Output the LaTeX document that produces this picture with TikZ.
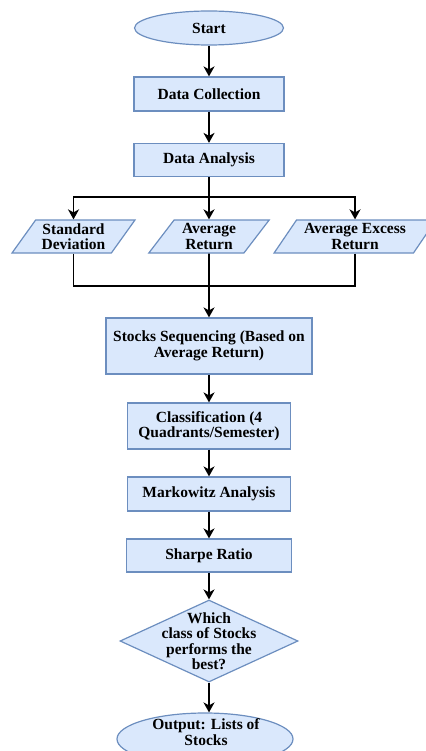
\documentclass[tikz,border=0pt]{standalone}
\usepackage{fontspec}
\setmainfont{Liberation Serif}
\usetikzlibrary{shapes.geometric,arrows.meta,calc}
\definecolor{boxfill}{HTML}{DAE8FC}
\definecolor{boxline}{HTML}{6C8EBF}
\begin{document}
\begin{tikzpicture}[x=1pt,y=-1pt,
  font=\bfseries\fontsize{15.5}{15.5}\selectfont,
  base/.style={draw=boxline, fill=boxfill, line width=1.2pt, align=center, inner sep=0pt},
  proc/.style={base, rectangle},
  terminal/.style={base, ellipse},
  para/.style={base, trapezium, trapezium left angle=53, trapezium right angle=127, trapezium stretches=true},
  decision/.style={base, diamond},
  txt/.style={align=center, inner sep=0pt},
  conn/.style={line width=1.8pt, black},
  flow/.style={conn, -{Stealth[length=10pt,width=11pt,inset=3pt]}}
]
\useasboundingbox (0,0) rectangle (425,751);

\node[terminal, minimum width=149, minimum height=34] (start) at (209,28) {Start};
\node[proc, minimum width=150, minimum height=34] (dc) at (209,94) {Data Collection};
\node[proc, minimum width=150, minimum height=33] (da) at (209,160) {Data Analysis};

\node[para, minimum width=123, minimum height=33] (sd) at (73.5,236.5) {Standard\\Deviation};
\node[para, minimum width=121, minimum height=33] (ar) at (209,236.5) {Average\\Return};
\node[para, minimum width=162, minimum height=33] (aer) at (355,236.5) {Average Excess\\Return};

\node[proc, minimum width=206, minimum height=56] (ss) at (209,346) {Stocks Sequencing (Based on\\Average Return)};
\node[proc, minimum width=163, minimum height=46] (cl) at (209,426) {Classification (4\\Quadrants/Semester)};
\node[proc, minimum width=163, minimum height=34] (mk) at (209,494) {Markowitz Analysis};
\node[proc, minimum width=165, minimum height=33] (sr) at (209,555.5) {Sharpe Ratio};

\node[decision, minimum width=178, minimum height=82] (q) at (209,641) {};
\node[txt] (qt) at (q.center) {Which\\class of Stocks\\performs the\\best?};

\node[terminal, minimum width=176, minimum height=52] (out) at (205,739) {};
\node[txt] (outt) at (206,732) {Output: Lists of\\Stocks};

\coordinate (split) at (209,197);
\coordinate (join) at (209,286);

\draw[flow] (start) -- (dc);
\draw[flow] (dc) -- (da);
\draw[conn] (da.south) -- (split);
\draw[flow] (split) -| (sd.north);
\draw[flow] (split) -- (ar.north);
\draw[flow] (split) -| (aer.north);
\draw[conn] (sd.south) |- (join);
\draw[conn] (aer.south) |- (join);
\draw[conn] (ar.south) -- (join);
\draw[flow] (join) -- (ss.north);
\draw[flow] (ss) -- (cl);
\draw[flow] (cl) -- (mk);
\draw[flow] (mk) -- (sr);
\draw[flow] (sr) -- (q.north);
\draw[flow] (q.south) -- (q.south |- out.north);
\end{tikzpicture}
\end{document}
